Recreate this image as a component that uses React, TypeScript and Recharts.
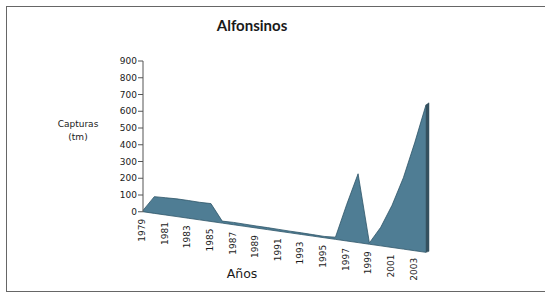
import React from 'react';
import { AreaChart, Area, XAxis, YAxis, Line, LabelList, ReferenceLine } from 'recharts';

const years = [
  '1979', '1980', '1981', '1982', '1983', '1984', '1985', '1986', '1987', '1988',
  '1989', '1990', '1991', '1992', '1993', '1994', '1995', '1996', '1997', '1998',
  '1999', '2000', '2001', '2002', '2003', '2004',
];

const catches = [
  8, 100, 103, 106, 106, 105, 107, 12, 14, 13,
  12, 12, 11, 10, 10, 9, 8, 13, 219, 411,
  8, 111, 252, 426, 644, 881,
];

const yTicks = [0, 100, 200, 300, 400, 500, 600, 700, 800, 900];

// perspective slant of the 3-D floor (value units dropped per category step)
const FLOOR_DROP = 9.7;

const data = years.map((year, i) => ({ year, value: catches[i], floor: -FLOOR_DROP * i }));
const last = data[data.length - 1];

const FILL = '#4f7d94';
const EDGE = '#2f5568';
const TEXT = '#1a1a1a';
const FONT = 'DejaVu Sans';

const YearLabel = (props: any) => {
  const { x, y, value, index } = props;
  if (index % 2 !== 0 || value === '2004') return null;
  return (
    <text
      transform={`translate(${x - 1},${y + 7}) rotate(-90)`}
      textAnchor="end"
      dominantBaseline="central"
      fontSize={9}
      fontFamily={FONT}
      fill={TEXT}
    >
      {value}
    </text>
  );
};

const SideFace = (props: any) => {
  const { x1, y1, x2, y2 } = props;
  if (x1 == null) return null;
  const pts = `${x1},${y1} ${x1 + 3},${y1 - 1} ${x2 + 3},${y2 - 2} ${x2},${y2}`;
  return <polygon points={pts} fill="#35505f" stroke="#35505f" strokeWidth={0.5} />;
};

export default function App() {
  return (
    <div style={{ position: 'absolute', left: 0, top: 0, width: 545, height: 295, background: '#fff' }}>
      <div
        style={{
          position: 'absolute',
          left: 6,
          top: 6,
          width: 560,
          height: 284,
          border: '1.5px solid #666',
        }}
      />
      <AreaChart
        width={545}
        height={295}
        data={data}
        margin={{ top: 61, right: 119, bottom: 33, left: 0 }}
        style={{ position: 'absolute', left: 0, top: 0 }}
      >
        <XAxis dataKey="year" hide />
        <YAxis
          type="number"
          domain={[-300, 900]}
          allowDataOverflow
          ticks={yTicks}
          axisLine={false}
          tickLine={{ stroke: '#555' }}
          tickSize={5}
          tickMargin={1}
          width={143}
          tick={{ fontSize: 9, fill: TEXT, fontFamily: FONT }}
        />
        <Area
          type="linear"
          dataKey={(d: any) => [d.floor, d.floor + d.value]}
          fill={FILL}
          fillOpacity={1}
          stroke={EDGE}
          strokeWidth={0.8}
          isAnimationActive={false}
          dot={false}
          activeDot={false}
        />
        <Line
          type="linear"
          dataKey="floor"
          stroke="none"
          dot={false}
          activeDot={false}
          isAnimationActive={false}
        >
          <LabelList dataKey="year" content={YearLabel} />
        </Line>
        <ReferenceLine
          segment={[{ x: last.year, y: last.floor }, { x: last.year, y: last.floor + last.value }]}
          shape={SideFace}
        />
        <ReferenceLine
          segment={[{ x: years[0], y: 0 }, { x: years[0], y: 900 }]}
          stroke="#555"
          strokeWidth={1}
        />
        <text x={252} y={31} textAnchor="middle" fontFamily="Lato" fontWeight="bold" fontSize={15} fill={TEXT}>
          Alfonsinos
        </text>
        <text x={78} y={127} textAnchor="middle" fontFamily={FONT} fontSize={9} fill={TEXT}>
          Capturas
        </text>
        <text x={78} y={140} textAnchor="middle" fontFamily={FONT} fontSize={9} fill={TEXT}>
          (tm)
        </text>
        <text x={242} y={278} textAnchor="middle" fontFamily={FONT} fontSize={12.5} fill={TEXT}>
          Años
        </text>
      </AreaChart>
    </div>
  );
}
